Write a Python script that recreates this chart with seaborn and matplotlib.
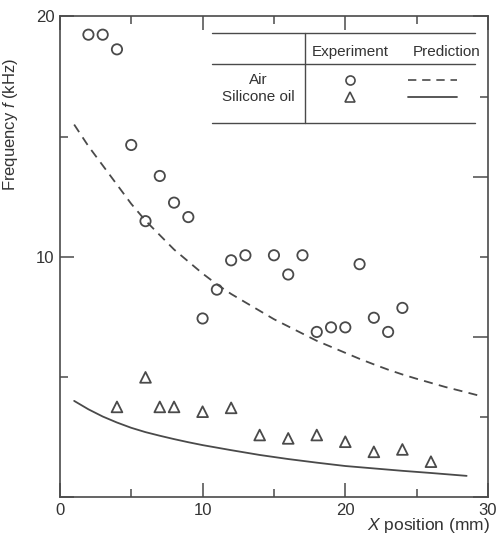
import numpy as np
import pandas as pd
import matplotlib
matplotlib.use("Agg")
import matplotlib.pyplot as plt
from matplotlib.ticker import MultipleLocator, FixedLocator, NullFormatter, FixedFormatter
import seaborn as sns

# ── Data ─────────────────────────────────────────────────────────────────────
air_x = [2, 3, 4, 5, 6, 7, 8, 9, 10, 11, 12, 13, 15, 16, 17, 18, 19, 20, 21, 22, 23, 24]
air_y = [19.24, 19.24, 18.63, 14.65, 11.48, 13.36, 12.25, 11.65, 7.43, 8.63, 9.85,
         10.06, 10.06, 9.26, 10.06, 6.87, 7.06, 7.06, 9.69, 7.46, 6.87, 7.87]

oil_x = [4, 6, 7, 8, 10, 12, 14, 16, 18, 20, 22, 24, 26]
oil_y = [3.75, 4.98, 3.75, 3.75, 3.55, 3.71, 2.58, 2.44, 2.58, 2.30, 1.88, 1.98, 1.47]

air_pred_x = [1, 2, 3, 4, 5, 6, 7, 8, 9, 10, 11, 12, 13, 14, 15, 16, 17, 18, 19, 20,
              21, 22, 23, 24, 25, 26, 27, 28, 29.5]
air_pred_y = [15.5, 14.6, 13.8, 13.0, 12.2, 11.5, 10.9, 10.3, 9.8, 9.3, 8.85, 8.45,
              8.1, 7.75, 7.4, 7.1, 6.8, 6.5, 6.25, 6.0, 5.75, 5.52, 5.3, 5.1, 4.92,
              4.75, 4.58, 4.43, 4.2]

oil_pred_x = [1, 2, 3, 4, 5, 6, 7, 8, 9, 10, 12, 14, 16, 18, 20, 22, 24, 26, 28.5]
oil_pred_y = [4.00, 3.65, 3.35, 3.10, 2.88, 2.70, 2.55, 2.41, 2.28, 2.16, 1.95, 1.75,
              1.58, 1.43, 1.29, 1.19, 1.09, 1.00, 0.88]

# ── Style ────────────────────────────────────────────────────────────────────
sns.set_theme(style="ticks")
INK  = "#4a4a4a"
TEXT = "#333333"
plt.rcParams.update({
    "font.family":        ["Liberation Sans", "DejaVu Sans"],
    "mathtext.fontset":   "custom",
    "mathtext.rm":        "Liberation Sans",
    "mathtext.it":        "Liberation Sans:italic",
    "axes.edgecolor":     INK,
    "axes.linewidth":     1.2,
    "text.color":         TEXT,
    "axes.labelcolor":    TEXT,
    "xtick.color":        INK,
    "ytick.color":        INK,
    "xtick.labelcolor":   TEXT,
    "ytick.labelcolor":   TEXT,
})

fig = plt.figure(figsize=(4.99, 5.40), dpi=100)
ax = fig.add_axes([0.120, 0.0796, 0.858, 0.890])

sns.scatterplot(x=air_x, y=air_y, ax=ax, marker="o", s=55,
                facecolor="none", edgecolor=INK, linewidth=1.3)
sns.scatterplot(x=oil_x, y=oil_y, ax=ax, marker="^", s=60,
                facecolor="none", edgecolor=INK, linewidth=1.3)
sns.lineplot(x=air_pred_x, y=air_pred_y, ax=ax, color=INK, linewidth=1.3,
             linestyle=(0, (5, 3.5)))
sns.lineplot(x=oil_pred_x, y=oil_pred_y, ax=ax, color=INK, linewidth=1.3)

ax.set_xlim(0, 30)
ax.set_ylim(0, 20)
ax.xaxis.set_major_locator(MultipleLocator(10))
ax.xaxis.set_minor_locator(MultipleLocator(5))
ax.yaxis.set_major_locator(FixedLocator([0, 10, 20]))
ax.yaxis.set_major_formatter(FixedFormatter(["", "10", "20"]))
ax.yaxis.set_minor_locator(FixedLocator([5, 15]))
ax.tick_params(which="both", direction="in", top=True, labelsize=12, width=1.1)
ax.tick_params(axis="y", which="both", right=False)
ax.tick_params(which="major", length=10, pad=4)
ax.tick_params(which="minor", length=6)

# right-hand axis has its own (unlabelled) tick spacing
ax2 = ax.twinx()
ax2.set_ylim(0, 6)
ax2.yaxis.set_major_locator(FixedLocator([0, 2, 4, 6]))
ax2.yaxis.set_minor_locator(FixedLocator([1, 3, 5]))
ax2.yaxis.set_major_formatter(NullFormatter())
ax2.tick_params(which="both", direction="in", width=1.1)
ax2.tick_params(which="major", length=11)
ax2.tick_params(which="minor", length=6)
for sp in ax2.spines.values():
    sp.set_visible(False)
for sp in ax.spines.values():
    sp.set_visible(True)

ax.set_ylabel(r"Frequency $\it{f}$ (kHz)", fontsize=12)
ax.yaxis.set_label_coords(-0.093, 0.775)
ax.set_xlabel(r"$\it{X}$ position (mm)", fontsize=12.5, ha="right", va="center")
ax.xaxis.set_label_coords(1.005, -0.060)

# ── Legend drawn as a small table ────────────────────────────────────────────
T = ax.transAxes
for yy in (0.965, 0.902, 0.778):
    ax.plot([0.355, 0.970], [yy, yy], transform=T, color=INK, lw=1.0, clip_on=False)
ax.plot([0.572, 0.572], [0.965, 0.778], transform=T, color=INK, lw=1.0)

ax.text(0.678, 0.925, "Experiment", transform=T, ha="center", va="center", fontsize=11)
ax.text(0.904, 0.925, "Prediction", transform=T, ha="center", va="center", fontsize=11)
ax.text(0.463, 0.867, "Air", transform=T, ha="center", va="center", fontsize=11)
ax.text(0.463, 0.832, "Silicone oil", transform=T, ha="center", va="center", fontsize=11)

ax.plot([0.678], [0.867], transform=T, marker="o", ms=6.5, mfc="none", mec=INK, mew=1.2)
ax.plot([0.678], [0.832], transform=T, marker="^", ms=7, mfc="none", mec=INK, mew=1.2)
ax.plot([0.813, 0.928], [0.867, 0.867], transform=T, color=INK, lw=1.2,
        linestyle=(0, (5, 3.5)))
ax.plot([0.813, 0.928], [0.832, 0.832], transform=T, color=INK, lw=1.3)

fig.savefig("out.png", dpi=100)
